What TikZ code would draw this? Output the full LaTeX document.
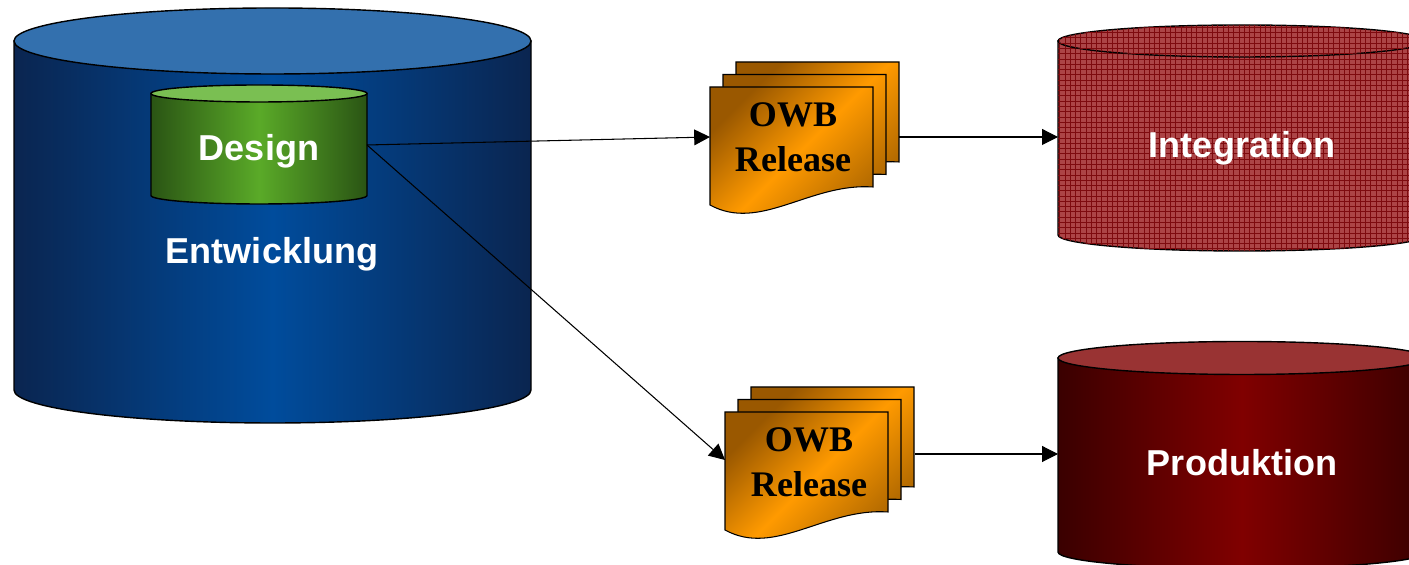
\documentclass[tikz,border=0pt]{standalone}
\usepackage{fontspec}
\setmainfont{Liberation Serif}
\setsansfont{Liberation Sans}
\usetikzlibrary{arrows.meta,patterns}
\definecolor{entedge}{HTML}{0A2550}
\definecolor{entmid}{HTML}{004C9C}
\definecolor{enttop}{HTML}{3370AE}
\definecolor{desedge}{HTML}{2A5414}
\definecolor{desmid}{HTML}{5AAA28}
\definecolor{destop}{HTML}{7ABF52}
\definecolor{intbase}{HTML}{AC4446}
\definecolor{intgrid}{HTML}{7E0A0E}
\definecolor{prodedge}{HTML}{3A0000}
\definecolor{prodmid}{HTML}{800000}
\definecolor{prodtop}{HTML}{993333}
\definecolor{reldark}{HTML}{9A5800}
\definecolor{relmid}{HTML}{FF9A00}
\definecolor{relend}{HTML}{B06800}
\def\drawdrum[#1][#2](#3,#4)(#5:#6:#7){\draw[#1] (#3-#5,#4) -- (#3-#5,#7) arc (180:360:#5 and #6) -- (#3+#5,#4) -- cycle; \draw[#2] (#3,#4) ellipse (#5 and #6);}
\def\owbpage(#1,#2){\draw[relpage] (#1,#2) -- (#1,#2+2.36) -- (#1+3.26,#2+2.36) -- (#1+3.26,#2+0.36) .. controls (#1+2.0,#2+0.45) and (#1+1.0,#2-0.55) .. (#1,#2) -- cycle;}
\tikzset{
	dbline/.style={draw=black, thick},
	labeltext/.style={text=white, anchor=base, font=\sffamily\bfseries\fontsize{20.5}{24}\selectfont},
	relpage/.style={draw=black, semithick, top color=reldark, bottom color=relend, middle color=relmid, shading angle=45},
	reltext/.style={align=center, font=\rmfamily\bfseries\fontsize{20.5}{25.6}\selectfont},
	flow/.style={semithick, -{Triangle[length=9pt,width=9pt]}}
}

\begin{document}
\begin{tikzpicture}
			%%%%% START %%%%%
			\useasboundingbox (0, 0) rectangle (28.18, 11.3);
			
			% Entwicklung with Design inside
			\drawdrum[dbline, left color=entedge, right color=entedge, middle color=entmid][dbline, fill=enttop](5.45,10.48)(5.17:0.66:3.5)
			\drawdrum[dbline, left color=desedge, right color=desedge, middle color=desmid][dbline, fill=destop](5.18,9.43)(2.16:0.17:7.39)
			\node[labeltext] (design) at (5.18, 8.08) {Design};
			\node[labeltext] (entw) at (5.44, 6.02) {Entwicklung};
			
			% Integration and Produktion
			\drawdrum[dbline, fill=intbase, postaction={pattern=grid, pattern color=intgrid}][dbline, fill=intbase, postaction={pattern=grid, pattern color=intgrid}](24.84,10.48)(3.68:0.32:6.6)
			\drawdrum[dbline, left color=prodedge, right color=prodedge, middle color=prodmid][dbline, fill=prodtop](24.84,4.14)(3.68:0.33:0.26)
			\node[labeltext] (integ) at (24.84, 8.14) {Integration};
			\node[labeltext] (prod) at (24.84, 1.78) {Produktion};
			
			% OWB releases
			\owbpage(14.72,7.7)
			\owbpage(14.46,7.45)
			\owbpage(14.2,7.2)
			\node[reltext] (rel1) at (15.86, 8.55) {OWB\\Release};
			
			\owbpage(15.02,1.2)
			\owbpage(14.76,0.95)
			\owbpage(14.5,0.7)
			\node[reltext] (rel2) at (16.18, 2.05) {OWB\\Release};
			
			% connectors
			\coordinate (design-out) at (7.34, 8.4);
			\coordinate (rel1-in) at (14.2, 8.56);
			\coordinate (rel1-out) at (17.98, 8.56);
			\coordinate (integ-in) at (21.16, 8.56);
			\coordinate (rel2-in) at (14.5, 2.1);
			\coordinate (rel2-out) at (18.3, 2.22);
			\coordinate (prod-in) at (21.16, 2.22);
			
			\draw[flow] (design-out) -- (rel1-in);
			\draw[flow] (design-out) -- (rel2-in);
			\draw[flow] (rel1-out) -- (integ-in);
			\draw[flow] (rel2-out) -- (prod-in);
			
			%%%%% END %%%%%
\end{tikzpicture}
\end{document}
